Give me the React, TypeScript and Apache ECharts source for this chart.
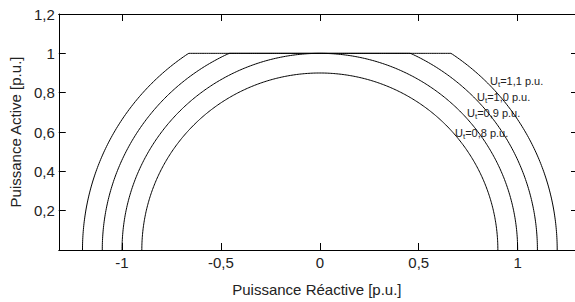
import React, { useEffect, useRef } from "react";
import * as echarts from "echarts";

const radii = [0.9, 1.0, 1.1, 1.2];
const pLimit = 1.0;
const curveLabels = ["0,8", "0,9", "1,0", "1,1"];
const xTicks = [-1, -0.5, 0, 0.5, 1];
const yTicks = [0.2, 0.4, 0.6, 0.8, 1.0, 1.2];
const xName = "Puissance Réactive [p.u.]";
const yName = "Puissance Active [p.u.]";

const STEPS = 360;
function capability(r: number): number[][] {
  const pts: number[][] = [];
  for (let i = 0; i <= STEPS; i++) {
    const th = Math.PI - (Math.PI * i) / STEPS;
    pts.push([r * Math.cos(th), Math.min(r * Math.sin(th), pLimit)]);
  }
  return pts;
}

const fmt = (v: number) => String(Math.round(v * 10) / 10).replace(".", ",");

export default function App() {
  const ref = useRef<HTMLDivElement>(null);
  useEffect(() => {
    if (!ref.current) return;
    const chart = echarts.init(ref.current, null, { renderer: "svg" });
    const font = "'Liberation Sans', Arial, sans-serif";
    const labelPos = [
      [455, 133],
      [467, 113],
      [477, 97],
      [490, 81],
    ];
    chart.setOption({
      animation: false,
      backgroundColor: "#fff",
      textStyle: { fontFamily: font },
      grid: { left: 55, right: 0, top: 14, bottom: 51 },
      xAxis: [
        {
          type: "value",
          min: -1.32,
          max: 1.29,
          name: xName,
          nameLocation: "middle",
          nameGap: 32,
          nameTextStyle: { fontSize: 15, color: "#222", fontFamily: font },
          axisLine: { show: true, onZero: false, lineStyle: { color: "#000", width: 1 } },
          axisTick: { show: true, inside: true, length: 7, customValues: xTicks, lineStyle: { color: "#000" } },
          axisLabel: { customValues: xTicks, formatter: fmt, fontSize: 15, color: "#222", margin: 5, fontFamily: font },
          splitLine: { show: false },
        },
        {
          type: "value",
          position: "top",
          min: -1.32,
          max: 1.29,
          axisLine: { show: true, onZero: false, lineStyle: { color: "#000", width: 1 } },
          axisTick: { show: true, inside: true, length: 7, customValues: xTicks, lineStyle: { color: "#000" } },
          axisLabel: { show: false },
          splitLine: { show: false },
        },
      ],
      yAxis: [
        {
          type: "value",
          min: 0,
          max: 1.2,
          interval: 0.2,
          name: yName,
          nameLocation: "middle",
          nameGap: 29,
          nameTextStyle: { fontSize: 15, color: "#222", fontFamily: font },
          axisLine: { show: true, onZero: false, lineStyle: { color: "#000", width: 1 } },
          axisTick: { show: true, inside: true, length: 7, customValues: yTicks, lineStyle: { color: "#000" } },
          axisLabel: { customValues: yTicks, formatter: fmt, fontSize: 15, color: "#222", margin: 4, fontFamily: font },
          splitLine: { show: false },
        },
        {
          type: "value",
          position: "right",
          min: 0,
          max: 1.2,
          interval: 0.2,
          axisLine: { show: true, onZero: false, lineStyle: { color: "#000", width: 1 } },
          axisTick: { show: true, inside: true, length: 4, customValues: yTicks, lineStyle: { color: "#000" } },
          axisLabel: { show: false },
          splitLine: { show: false },
        },
      ],
      series: radii.map((r) => ({
        type: "line",
        data: capability(r),
        showSymbol: false,
        symbol: "none",
        lineStyle: { color: "#000", width: 1 },
        clip: true,
        silent: true,
      })),
      graphic: curveLabels.map((t, i) => ({
        type: "text",
        x: labelPos[i][0],
        y: labelPos[i][1],
        style: {
          text: `{a|U}{b|t}{a|=${t} p.u.}`,
          fontFamily: font,
          verticalAlign: "middle",
          rich: {
            a: { fontSize: 11, fill: "#222", fontFamily: font },
            b: { fontSize: 8, fill: "#222", fontFamily: font, padding: [6, 0, 0, 0] },
          },
        },
      })),
    });
    return () => chart.dispose();
  }, []);
  return (
    <div
      ref={ref}
      style={{ position: "fixed", left: 0, top: 0, width: 575, height: 302, background: "#fff" }}
    />
  );
}
